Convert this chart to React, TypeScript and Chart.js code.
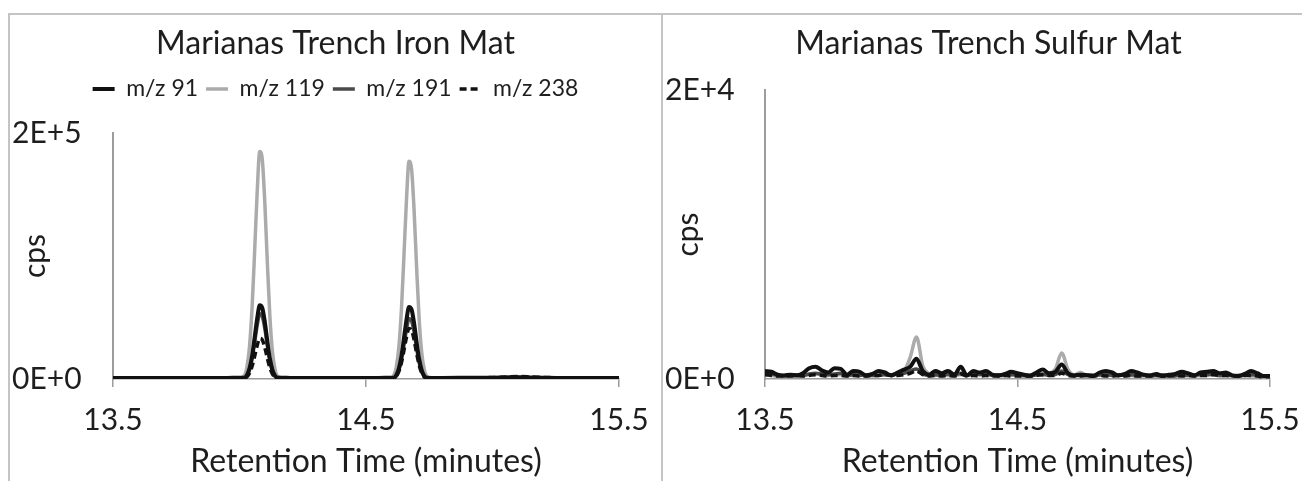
import React, { useEffect, useRef } from 'react';
import { Chart, registerables, layouts } from 'chart.js';

Chart.register(...registerables);

// ---------- data ----------
const SERIES_LABELS = ['m/z 91', 'm/z 119', 'm/z 191', 'm/z 238'];
const X_TICKS = [13.5, 14.5, 15.5];
const IRON_Y_TICKS = [0, 200000];
const SULFUR_Y_TICKS = [0, 20000];

const IRON_TIME = [
  13.5, 13.6, 13.7, 13.8, 13.9, 13.95, 14.0,
  14.02, 14.03, 14.04, 14.05, 14.06, 14.07, 14.08, 14.09, 14.1, 14.11, 14.12, 14.13, 14.14, 14.15,
  14.17, 14.2, 14.3, 14.4, 14.5, 14.55, 14.6,
  14.61, 14.62, 14.63, 14.64, 14.65, 14.66, 14.67, 14.68, 14.69, 14.7, 14.71, 14.72, 14.73, 14.74,
  14.76, 14.8, 14.9, 15.0, 15.05, 15.1, 15.15, 15.2, 15.3, 15.4, 15.5,
];
const IRON_MZ91 = [
  900, 800, 900, 800, 900, 900, 1000,
  1000, 3400, 8900, 19100, 34000, 49400, 60000, 57900, 46600, 30800, 16700, 7400, 2700, 1100,
  1000, 900, 800, 900, 900, 900, 1000,
  1000, 3300, 8700, 18700, 33100, 48200, 58500, 56500, 45500, 30000, 16300, 7200, 2600, 1100,
  900, 900, 1000, 1100, 1300, 1500, 1300, 1100, 900, 900, 800,
];
const IRON_MZ119 = [
  600, 500, 600, 500, 600, 700, 800,
  3100, 10400, 27400, 59000, 104700, 152400, 185000, 178500, 143700, 94900, 51400, 22800, 8300, 2500,
  1000, 700, 600, 500, 600, 600, 900,
  3000, 9900, 26200, 56500, 100200, 145800, 177000, 170800, 137500, 90800, 49200, 21800, 8000, 2400,
  1000, 700, 600, 600, 700, 800, 700, 600, 500, 500, 500,
];
const IRON_MZ191 = [
  700, 700, 700, 700, 700, 800, 900,
  900, 3000, 7800, 16900, 30000, 43700, 53000, 51100, 41200, 27200, 14700, 6500, 2400, 1000,
  800, 700, 700, 700, 700, 800, 900,
  900, 2700, 7300, 15600, 27700, 40400, 49000, 47300, 38100, 25100, 13600, 6000, 2200, 1000,
  800, 700, 800, 900, 1100, 1200, 1100, 900, 800, 700, 700,
];
const IRON_MZ238 = [
  800, 700, 800, 700, 800, 800, 900,
  900, 1900, 4900, 10500, 18700, 27200, 33000, 31800, 25600, 16900, 9200, 4100, 1500, 900,
  900, 800, 700, 800, 800, 800, 900,
  900, 2300, 6100, 13100, 23200, 33800, 41000, 39600, 31900, 21000, 11400, 5000, 1800, 900,
  900, 800, 900, 1200, 1600, 2000, 1700, 1300, 900, 800, 800,
];

const SULFUR_TIME = [
  13.5, 13.525, 13.55, 13.575, 13.6, 13.625, 13.65, 13.675, 13.7, 13.725,
  13.75, 13.775, 13.8, 13.825, 13.85, 13.875, 13.9, 13.925, 13.95, 13.975,
  14.0, 14.025, 14.05, 14.075, 14.1, 14.125, 14.15, 14.175, 14.2, 14.225,
  14.25, 14.275, 14.3, 14.325, 14.35, 14.375, 14.4, 14.425, 14.45, 14.475,
  14.5, 14.525, 14.55, 14.575, 14.6, 14.625, 14.65, 14.675, 14.7, 14.725,
  14.75, 14.775, 14.8, 14.825, 14.85, 14.875, 14.9, 14.925, 14.95, 14.975,
  15.0, 15.025, 15.05, 15.075, 15.1, 15.125, 15.15, 15.175, 15.2, 15.225,
  15.25, 15.275, 15.3, 15.325, 15.35, 15.375, 15.4, 15.425, 15.45, 15.475,
  15.5,
];
const SULFUR_MZ91 = [
  550, 500, 300, 250, 300, 250, 400, 750, 850, 600,
  450, 750, 700, 300, 550, 500, 250, 350, 550, 450,
  250, 450, 650, 850, 1400, 550, 300, 550, 400, 550,
  300, 850, 250, 550, 450, 550, 300, 250, 350, 500,
  400, 300, 250, 450, 650, 400, 500, 1000, 400, 250,
  300, 250, 200, 450, 550, 450, 250, 350, 550, 450,
  300, 250, 350, 200, 300, 350, 500, 400, 250, 450,
  500, 550, 400, 450, 250, 200, 350, 550, 400, 200,
  200,
];
const SULFUR_MZ119 = [
  300, 250, 200, 250, 200, 200, 250, 300, 350, 300,
  250, 300, 300, 250, 250, 300, 200, 250, 300, 350,
  300, 300, 500, 1500, 2900, 900, 350, 250, 300, 250,
  250, 300, 250, 300, 350, 300, 250, 200, 250, 300,
  250, 200, 250, 300, 250, 350, 700, 1800, 650, 300,
  450, 250, 300, 250, 300, 250, 250, 300, 250, 200,
  250, 300, 250, 200, 250, 300, 250, 250, 200, 250,
  250, 300, 200, 250, 200, 250, 300, 200, 250, 200,
  200,
];
const SULFUR_MZ191 = [
  400, 350, 250, 200, 250, 300, 250, 350, 400, 350,
  300, 350, 400, 250, 300, 250, 300, 250, 250, 300,
  300, 350, 400, 550, 700, 350, 250, 300, 250, 350,
  250, 400, 250, 350, 300, 350, 250, 300, 250, 300,
  300, 250, 200, 300, 350, 250, 300, 550, 300, 250,
  250, 300, 250, 300, 300, 250, 300, 250, 300, 250,
  250, 200, 250, 300, 250, 200, 300, 250, 300, 300,
  300, 350, 250, 300, 250, 250, 250, 300, 300, 200,
  200,
];
const SULFUR_MZ238 = [
  300, 250, 200, 200, 200, 250, 200, 250, 300, 250,
  200, 250, 250, 200, 250, 200, 200, 250, 250, 300,
  250, 250, 300, 400, 550, 300, 200, 250, 200, 250,
  200, 350, 200, 250, 200, 250, 200, 200, 250, 200,
  200, 200, 200, 250, 300, 250, 250, 400, 250, 200,
  200, 250, 200, 250, 200, 200, 250, 200, 250, 200,
  200, 200, 250, 200, 200, 250, 200, 250, 200, 250,
  250, 300, 250, 250, 200, 200, 250, 250, 200, 150,
  150,
];

// ---------- styling ----------
const FONT = 'Lato, "Open Sans", sans-serif';
const TEXT = '#1e1e1e';
const AXIS = '#9c9c9c';
const STYLES = [
  { color: '#111111', width: 4, dash: [] as number[], order: 1 },
  { color: '#ababab', width: 3.5, dash: [] as number[], order: 3 },
  { color: '#4a4a4a', width: 3.5, dash: [] as number[], order: 2 },
  { color: '#111111', width: 3.5, dash: [7, 4], order: 0 },
];

const sci = (v: number) => {
  if (v === 0) return '0E+0';
  const e = Math.floor(Math.log10(v) + 1e-9);
  const m = Math.round(v / Math.pow(10, e));
  return `${m}E+${e}`;
};

function topSpacer(size: number) {
  return {
    id: 'topSpacer',
    beforeInit(chart: any) {
      if (size <= 0) return;
      const box: any = {
        position: 'top',
        weight: 100,
        fullSize: false,
        options: {},
        width: 0, height: 0, top: 0, left: 0, right: 0, bottom: 0,
        isHorizontal: () => true,
        update(maxWidth: number) {
          box.width = maxWidth;
          box.height = size;
        },
        draw() {},
      };
      layouts.addBox(chart, box);
    },
  };
}

type PanelDef = {
  title: string;
  time: number[];
  series: number[][];
  yTicks: number[];
  legend: boolean;
  rightPad: number;
  yWidth: number;
  titlePadBottom: number;
  topGap: number;
};

function legendLabels(chart: any) {
  const items = (Chart.defaults as any).plugins.legend.labels.generateLabels(chart);
  items.forEach((it: any) => {
    const ds = chart.data.datasets[it.datasetIndex];
    it.lineDash = ds.borderDash;
    it.strokeStyle = ds.borderColor;
    it.fillStyle = ds.borderColor;
    it.lineWidth = ds.borderWidth;
  });
  return items.sort((a: any, b: any) => a.datasetIndex - b.datasetIndex);
}

function buildConfig(p: PanelDef): any {
  return {
    type: 'line',
    data: {
      datasets: p.series.map((vals, i) => ({
        label: SERIES_LABELS[i],
        data: vals.map((y, k) => ({ x: p.time[k], y })),
        borderColor: STYLES[i].color,
        backgroundColor: STYLES[i].color,
        borderWidth: STYLES[i].width,
        borderDash: STYLES[i].dash,
        order: STYLES[i].order,
        pointRadius: 0,
        cubicInterpolationMode: 'monotone',
        fill: false,
      })),
    },
    options: {
      responsive: false,
      animation: false,
      devicePixelRatio: 1,
      layout: { padding: { left: 2, right: 2, top: 0, bottom: 0 } },
      plugins: {
        title: {
          display: true,
          text: p.title,
          color: TEXT,
          font: { family: FONT, size: 32, weight: 'normal' },
          padding: { top: 9, bottom: p.titlePadBottom },
        },
        legend: {
          display: p.legend,
          position: 'top',
          align: 'center',
          labels: {
            color: TEXT,
            font: { family: FONT, size: 23 },
            usePointStyle: true,
            pointStyle: 'line',
            pointStyleWidth: 22,
            padding: 8,
            generateLabels: legendLabels,
          },
        },
        tooltip: { enabled: false },
      },
      scales: {
        x: {
          type: 'linear',
          min: 13.5,
          max: 15.5,
          afterBuildTicks: (s: any) => {
            s.ticks = X_TICKS.map((v) => ({ value: v }));
          },
          afterFit: (s: any) => {
            s.height = 102;
            s.paddingLeft = 0;
            s.paddingRight = p.rightPad;
          },
          ticks: {
            autoSkip: false,
            maxRotation: 0,
            color: TEXT,
            padding: 15,
            font: { family: FONT, size: 30 },
            callback: (v: any) => Number(v).toFixed(1),
          },
          grid: {
            display: true,
            drawOnChartArea: false,
            drawTicks: true,
            tickLength: 8,
            color: AXIS,
            lineWidth: 1.5,
          },
          border: { display: true, color: AXIS, width: 1.5 },
          title: {
            display: true,
            text: 'Retention Time (minutes)',
            color: TEXT,
            font: { family: FONT, size: 32 },
            padding: { top: 0, bottom: 0 },
          },
        },
        y: {
          type: 'linear',
          min: p.yTicks[0],
          max: p.yTicks[p.yTicks.length - 1],
          afterBuildTicks: (s: any) => {
            s.ticks = p.yTicks.map((v) => ({ value: v }));
          },
          afterFit: (s: any) => {
            s.width = p.yWidth;
            s.paddingTop = 0;
            s.paddingBottom = 0;
          },
          ticks: {
            autoSkip: false,
            color: TEXT,
            crossAlign: 'far',
            padding: 4,
            font: { family: FONT, size: 30 },
            callback: (v: any) => sci(Number(v)),
          },
          grid: { display: false, drawTicks: false },
          border: { display: true, color: AXIS, width: 2 },
          title: {
            display: true,
            text: 'cps',
            color: TEXT,
            font: { family: FONT, size: 30 },
            padding: { top: 5, bottom: 0 },
          },
        },
      },
    },
    plugins: [topSpacer(p.topGap)],
  };
}

const IRON: PanelDef = {
  title: 'Marianas Trench Iron Mat',
  time: IRON_TIME,
  series: [IRON_MZ91, IRON_MZ119, IRON_MZ191, IRON_MZ238],
  yTicks: IRON_Y_TICKS,
  legend: true,
  rightPad: 42,
  yWidth: 101,
  titlePadBottom: 7.1,
  topGap: 22.5,
};

const SULFUR: PanelDef = {
  title: 'Marianas Trench Sulfur Mat',
  time: SULFUR_TIME,
  series: [SULFUR_MZ91, SULFUR_MZ119, SULFUR_MZ191, SULFUR_MZ238],
  yTicks: SULFUR_Y_TICKS,
  legend: false,
  rightPad: 44,
  yWidth: 100,
  titlePadBottom: 27.6,
  topGap: 0,
};

const W = 651;
const H = 466;

function Panel({ def }: { def: PanelDef }) {
  const ref = useRef<HTMLCanvasElement | null>(null);
  useEffect(() => {
    if (!ref.current) return;
    const chart = new Chart(ref.current, buildConfig(def));
    return () => chart.destroy();
  }, [def]);
  return (
    <div style={{ width: W, height: H, flex: '0 0 auto', background: '#fff' }}>
      <canvas ref={ref} width={W} height={H} style={{ width: W, height: H, display: 'block' }} />
    </div>
  );
}

export default function App() {
  return (
    <div
      style={{
        position: 'fixed',
        left: 8,
        top: 13,
        width: 1294,
        height: 468,
        overflow: 'hidden',
        boxSizing: 'border-box',
        borderTop: '2px solid #c4c4c4',
        borderLeft: '2px solid #c4c4c4',
        display: 'flex',
        background: '#fff',
      }}
    >
      <Panel def={IRON} />
      <div style={{ width: 2, height: H, background: '#c4c4c4', flex: '0 0 auto' }} />
      <Panel def={SULFUR} />
    </div>
  );
}
